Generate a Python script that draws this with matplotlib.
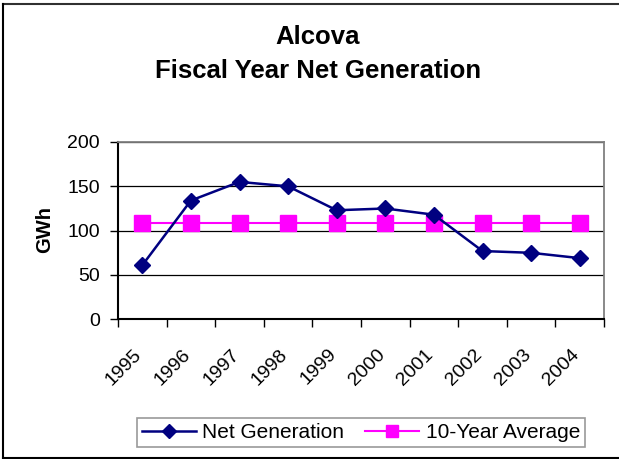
import matplotlib
matplotlib.use("Agg")
import matplotlib.pyplot as plt
from matplotlib.transforms import ScaledTranslation
from matplotlib.lines import Line2D

years = ["1995", "1996", "1997", "1998", "1999", "2000", "2001", "2002", "2003", "2004"]
net_generation = [61, 134, 155, 150, 123, 125, 118, 77, 75, 69]
ten_year_average = [108.7] * 10
y_ticks = [0, 50, 100, 150, 200]

plt.rcParams['font.family'] = ['Liberation Sans', 'DejaVu Sans']

fig = plt.figure(figsize=(6.19, 4.59), dpi=100)
ax = fig.add_axes([118/619, 1-319.3/459, (604-118)/619, (319.3-142)/459])

x = list(range(len(years)))
ax.plot(x, net_generation, color='#000080', lw=1.8, marker='D', ms=8,
        markerfacecolor='#000080', markeredgecolor='#000080', label='Net Generation', zorder=4)
ax.plot(x, ten_year_average, color='#FF00FF', lw=1.5, marker='s', ms=11,
        markerfacecolor='#FF00FF', markeredgecolor='#FF00FF', label='10-Year Average', zorder=3)

ax.set_xlim(-0.5, len(years) - 0.5)
ax.set_ylim(0, 200)
ax.set_yticks(y_ticks)
ax.set_yticklabels([str(v) for v in y_ticks])
ax.yaxis.grid(True, color='black', lw=0.9)
ax.set_axisbelow(True)

ax.set_xticks([i - 0.5 for i in range(len(years) + 1)])
ax.set_xticklabels([])
ax.set_xticks(x, minor=True)
ax.set_xticklabels(years, minor=True, rotation=45, ha='right', va='top',
                   rotation_mode='anchor', fontsize=14)
ax.tick_params(axis='x', which='major', direction='out', length=6, width=1, color='black')
ax.tick_params(axis='x', which='minor', length=0, pad=0)
ax.tick_params(axis='y', direction='out', length=6, width=1, pad=7, labelsize=14)
for lab in ax.get_xticklabels(minor=True):
    lab.set_transform(lab.get_transform() + ScaledTranslation(-0.09, -0.265, fig.dpi_scale_trans))

for s in ['top', 'right']:
    ax.spines[s].set_color('#808080')
    ax.spines[s].set_linewidth(1.3)
for s in ['left', 'bottom']:
    ax.spines[s].set_color('black')
    ax.spines[s].set_linewidth(1.5)

fig.text(318/619, 1-37/459, 'Alcova', ha='center', va='center', fontsize=18.5, fontweight='bold')
fig.text(318/619, 1-71/459, 'Fiscal Year Net Generation', ha='center', va='center', fontsize=18.5, fontweight='bold')
fig.text(45/619, 1-230/459, 'GWh', ha='center', va='center', rotation=90, fontsize=14.5, fontweight='bold')

leg = fig.legend(loc='center', bbox_to_anchor=(361/619, 1-432.5/459), ncol=2, fontsize=15,
                 frameon=True, fancybox=False, shadow=False, handlelength=2.6,
                 borderpad=0.25, columnspacing=1.0, handletextpad=0.3, borderaxespad=0)
leg.get_frame().set_edgecolor('#808080')
leg.get_frame().set_linewidth(1.2)
for h in leg.legend_handles:
    h.set_markersize(h.get_markersize() * 0.85)

fig.add_artist(Line2D([3/619, 1], [1-4/459, 1-4/459], transform=fig.transFigure, color='#303030', lw=1.5))
fig.add_artist(Line2D([3/619, 3/619], [1-4/459, 1-458/459], transform=fig.transFigure, color='black', lw=1.5))
fig.add_artist(Line2D([3/619, 1], [1-458/459, 1-458/459], transform=fig.transFigure, color='black', lw=1.5))

fig.savefig('out.png', dpi=100)
